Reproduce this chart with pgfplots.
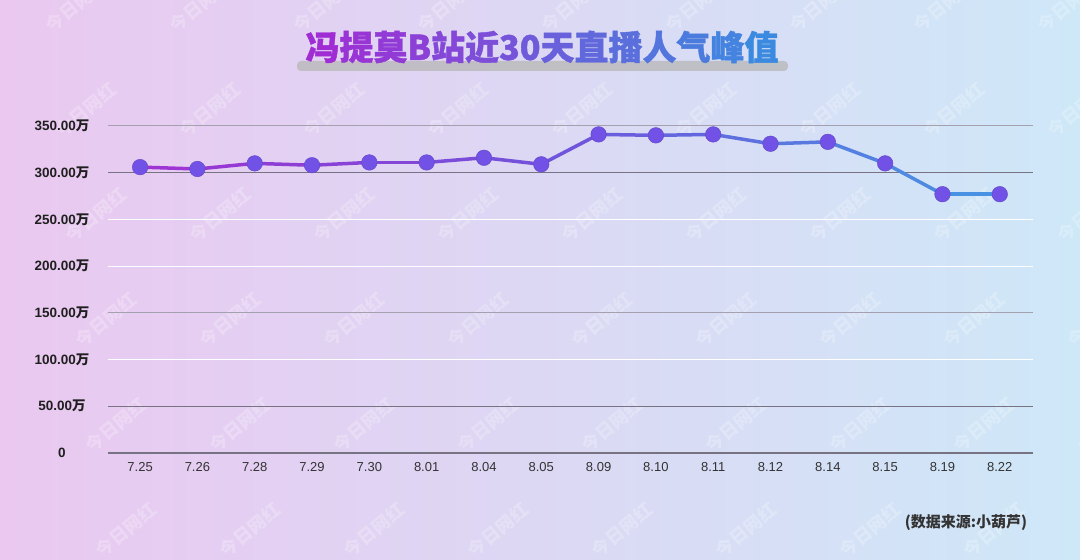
\documentclass[border=0pt]{standalone}
\usepackage{pgfplots}
\pgfplotsset{compat=1.18}
\usepackage{fontspec}
\setmainfont{Liberation Sans}
\newfontfamily\cjk{Noto Sans CJK SC}
\newfontfamily\cjkt{Noto Sans CJK SC}[BoldFeatures={FakeBold=1.2}]

\definecolor{bgL}{RGB}{234,200,240}
\definecolor{bgM}{RGB}{222,220,246}
\definecolor{bgR}{RGB}{206,232,248}
\definecolor{tA}{RGB}{160,45,212}
\definecolor{tB}{RGB}{60,138,224}
\definecolor{mk}{RGB}{114,82,230}
\definecolor{gridD}{RGB}{120,115,130}
\definecolor{gridM}{RGB}{165,160,175}

\pgfplotstableread{
idx val
0  306
1  304
2  310
3  308
4  311
5  311
6  316
7  309
8  341
9  340
10 341
11 331
12 333
13 310
14 277
15 277
}\peak

% one colour per title character, purple to blue
\newcommand{\tc}[2]{{\color{tB!#1!tA}#2}}

\begin{document}
\begin{tikzpicture}
\useasboundingbox (0pt,0pt) rectangle (1080pt,560pt);
\begin{scope}[x=1pt,y=1pt]
\shade[left color=bgL, middle color=bgM, right color=bgR] (0,0) rectangle (1080,560);

% watermark
\foreach \r in {0,...,5}{
  \foreach \c in {0,...,8}{
    \pgfmathsetmacro{\wx}{76+124*\c+10*\r}
    \pgfmathsetmacro{\wy}{560-(5+105*\r)}
    \node[white, opacity=0.24, rotate=40, font=\cjk\bfseries\fontsize{18}{18}\selectfont] at (\wx,\wy) {今日网红};
  }
}

% title
\fill[gray!55, opacity=0.8, rounded corners=4pt] (297,489) rectangle (788,499);
\node[font=\cjkt\bfseries\fontsize{34}{34}\selectfont, inner sep=0pt] at (542,513) {%
\tc{0}{冯}\tc{7}{提}\tc{14}{莫}\tc{21}{B}\tc{28}{站}\tc{35}{近}\tc{42}{3}\tc{49}{0}%
\tc{56}{天}\tc{63}{直}\tc{70}{播}\tc{77}{人}\tc{84}{气}\tc{92}{峰}\tc{100}{值}};

\node[font=\cjk\bfseries\fontsize{15}{15}\selectfont, text=black!80, inner sep=0pt] at (966,37) {(数据来源:小葫芦)};
\end{scope}

\begin{axis}[
  at={(108pt,107pt)}, anchor=south west,
  scale only axis, width=925pt, height=327pt,
  xmin=-0.56, xmax=15.58, ymin=0, ymax=350,
  axis line style={draw=none},
  major tick length=0pt,
  xtick={0,...,15},
  xticklabels={7.25,7.26,7.28,7.29,7.30,8.01,8.04,8.05,8.09,8.10,8.11,8.12,8.14,8.15,8.19,8.22},
  xticklabel style={font=\fontsize{13}{13}\selectfont, text=black!80, yshift=-6pt},
  ytick={0,50,...,350},
  yticklabels={{0},{50.00\cjk 万},{100.00\cjk 万},{150.00\cjk 万},{200.00\cjk 万},{250.00\cjk 万},{300.00\cjk 万},{350.00\cjk 万}},
  yticklabel style={font=\bfseries\fontsize{13.5}{13.5}\selectfont, text=black!88, anchor=center, xshift=-46pt},
  colormap={pb}{rgb255(0)=(160,50,210) rgb255(0.5)=(110,85,220) rgb255(1)=(70,150,228)},
  clip=false,
]
\draw[white, line width=1pt] (axis cs:-0.56,100) -- (axis cs:15.58,100);
\draw[white, line width=1pt] (axis cs:-0.56,200) -- (axis cs:15.58,200);
\draw[white, line width=1pt] (axis cs:-0.56,250) -- (axis cs:15.58,250);
\draw[gridM, line width=1pt] (axis cs:-0.56,150) -- (axis cs:15.58,150);
\draw[gridM, line width=1pt] (axis cs:-0.56,350) -- (axis cs:15.58,350);
\draw[gridD, line width=1.2pt] (axis cs:-0.56,0) -- (axis cs:15.58,0);
\draw[gridD, line width=1.2pt] (axis cs:-0.56,50) -- (axis cs:15.58,50);
\draw[gridD, line width=1.2pt] (axis cs:-0.56,300) -- (axis cs:15.58,300);

\addplot[mesh, point meta=x, line width=3.5pt, line cap=round, line join=round] table[x=idx, y=val] {\peak};
\addplot[only marks, mark=*, mark size=7.8pt, mark options={fill=mk, draw=mk!85!black, line width=0.4pt}] table[x=idx, y=val] {\peak};
\end{axis}
\end{tikzpicture}
\end{document}
